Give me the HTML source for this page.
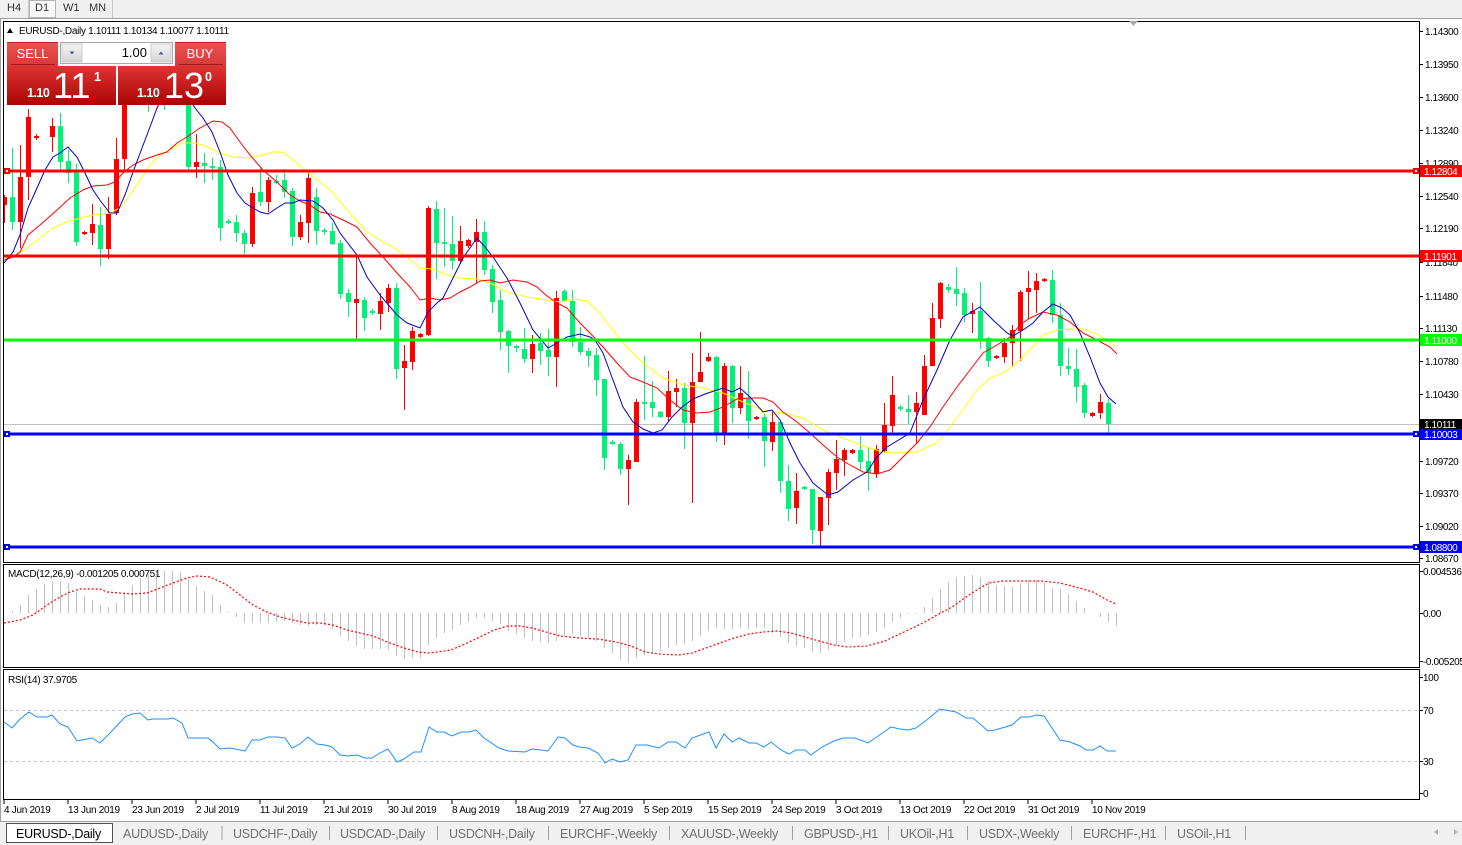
<!DOCTYPE html>
<html><head><meta charset="utf-8"><style>
html,body{margin:0;padding:0;background:#fff;width:1462px;height:845px;overflow:hidden}
svg{display:block}
text{font-family:"Liberation Sans",Arial,sans-serif}
.ax{font-size:10px;letter-spacing:-0.4px;fill:#000}
.dt{font-size:10px;letter-spacing:-0.3px;fill:#000}
.tb{font-size:12.5px;letter-spacing:-0.25px;fill:#707070}
</style></head><body>
<svg width="1462" height="845" viewBox="0 0 1462 845" xmlns="http://www.w3.org/2000/svg">
<defs>
<linearGradient id="gb" x1="0" y1="0" x2="0" y2="1"><stop offset="0" stop-color="#ee5252"/><stop offset="1" stop-color="#d83838"/></linearGradient>
<linearGradient id="gp" x1="0" y1="0" x2="0" y2="1"><stop offset="0" stop-color="#de3434"/><stop offset="1" stop-color="#ac0303"/></linearGradient>
<linearGradient id="gs" x1="0" y1="0" x2="0" y2="1"><stop offset="0" stop-color="#f4f4f4"/><stop offset="1" stop-color="#d4d4d4"/></linearGradient>
<clipPath id="cm"><rect x="4" y="22" width="1415" height="541"/></clipPath>
</defs>
<!-- toolbar -->
<rect x="0" y="0" width="1462" height="19" fill="#f0f0f0"/>
<line x1="0" y1="18.5" x2="1462" y2="18.5" stroke="#a0a0a0"/>
<rect x="29.5" y="0.5" width="26" height="17" fill="#f8f8f8" stroke="#b4b4b4"/>
<line x1="28.5" y1="0" x2="28.5" y2="18" stroke="#c8c8c8"/>
<line x1="112.5" y1="0" x2="112.5" y2="18" stroke="#c8c8c8"/>
<text x="7" y="11" font-size="11" fill="#333">H4</text>
<text x="35" y="11" font-size="11" fill="#333">D1</text>
<text x="63" y="11" font-size="11" fill="#333">W1</text>
<text x="89" y="11" font-size="11" fill="#333">MN</text>
<line x1="0.5" y1="19" x2="0.5" y2="821" stroke="#a0a0a0"/>

<!-- panel borders -->
<rect x="3.5" y="21.5" width="1416" height="541" fill="#fff" stroke="#000"/>
<rect x="3.5" y="564.5" width="1416" height="103" fill="#fff" stroke="#000"/>
<rect x="3.5" y="669.5" width="1416" height="130" fill="#fff" stroke="#000"/>

<polygon points="1129,21 1138,21 1133.5,26" fill="#a8a8a8"/>

<g clip-path="url(#cm)">
<!-- current price line -->
<line x1="4" y1="424.5" x2="1419" y2="424.5" stroke="#c0c0c0"/>
<!-- candles red -->
<path fill="none" stroke="#ff0000" stroke-width="1" d="M4.5 195V223M20.5 145V248M28.5 109V200M36.5 134V140M44.5 75V104M52.5 118V152M84.5 231V235M92.5 204V245M108.5 197V259M116.5 138V215M124.5 90V170M140.5 72V100M156.5 72V100M180.5 72V100M196.5 134V178M252.5 187V247M268.5 177V212M300.5 215V240M308.5 170V243M356.5 257V339M380.5 293V330M388.5 284V312M404.5 345V410M412.5 327V370M420.5 333V338M428.5 206V336M460.5 226V264M468.5 239V248M476.5 219V283M532.5 335V373M556.5 291V387M628.5 455V505M636.5 399V462M668.5 371V421M676.5 379V407M692.5 353V503M700.5 332V382M708.5 353V362M724.5 363V445M740.5 366V414M756.5 416V420M772.5 410V451M796.5 473V524M820.5 497V547M828.5 469V525M836.5 440V490M844.5 448V476M852.5 449V454M876.5 445V478M884.5 403V453M892.5 376V433M916.5 392V443M924.5 355V415M932.5 303V366M940.5 282V328M972.5 303V333M996.5 355V359M1004.5 338V363M1012.5 325V367M1020.5 290V361M1028.5 271V319M1036.5 273V313M1044.5 278V282M1092.5 412V417M1100.5 394V419"/>
<path fill="#ff0000" d="M3 197h4v8h-4zM18 177h5v45h-5zM26 117h5v60h-5zM34 136h5v2h-5zM42 80h5v20h-5zM50 126h5v11h-5zM82 232h5v2h-5zM90 224h5v9h-5zM106 214h5v35h-5zM114 159h5v54h-5zM122 100h5v59h-5zM138 75h5v20h-5zM154 75h5v20h-5zM178 75h5v15h-5zM194 162h5v5h-5zM250 193h5v51h-5zM266 180h5v22h-5zM298 222h5v15h-5zM306 178h5v45h-5zM354 299h5v4h-5zM378 301h5v13h-5zM386 288h5v15h-5zM402 361h5v7h-5zM410 331h5v31h-5zM418 334h5v3h-5zM426 208h5v127h-5zM458 241h5v20h-5zM466 240h5v6h-5zM474 232h5v10h-5zM530 344h5v15h-5zM554 298h5v59h-5zM626 460h5v9h-5zM634 402h5v60h-5zM666 391h5v26h-5zM674 388h5v4h-5zM690 382h5v41h-5zM698 372h5v10h-5zM706 357h5v4h-5zM722 366h5v67h-5zM738 393h5v15h-5zM754 417h5v2h-5zM770 422h5v20h-5zM794 491h5v17h-5zM818 497h5v34h-5zM826 472h5v26h-5zM834 459h5v14h-5zM842 450h5v10h-5zM850 450h5v3h-5zM874 449h5v25h-5zM882 425h5v26h-5zM890 395h5v31h-5zM914 403h5v9h-5zM922 366h5v49h-5zM930 318h5v48h-5zM938 283h5v36h-5zM970 311h5v3h-5zM994 356h5v2h-5zM1002 343h5v14h-5zM1010 330h5v13h-5zM1018 292h5v39h-5zM1026 288h5v4h-5zM1034 281h5v9h-5zM1042 279h5v2h-5zM1090 413h5v3h-5zM1098 402h5v11h-5z"/>
<!-- candles green -->
<path fill="none" stroke="#00f07a" stroke-width="1" d="M12.5 148V230M60.5 113V172M68.5 150V183M76.5 164V246M100.5 207V266M132.5 72V100M148.5 72V112M164.5 72V110M172.5 72V100M188.5 80V170M204.5 153V183M212.5 158V180M220.5 160V241M228.5 219V224M236.5 215V242M244.5 230V254M260.5 167V206M276.5 175V184M284.5 169V198M292.5 188V246M316.5 188V245M324.5 228V235M332.5 223V245M340.5 240V299M348.5 289V317M364.5 297V331M372.5 309V315M396.5 283V379M436.5 201V279M444.5 208V267M452.5 216V270M484.5 221V275M492.5 265V313M500.5 290V350M508.5 330V373M516.5 345V352M524.5 328V363M540.5 333V365M548.5 329V376M564.5 289V302M572.5 290V347M580.5 327V355M588.5 348V367M596.5 348V396M604.5 379V470M612.5 440V445M620.5 442V475M644.5 356V420M652.5 381V417M660.5 411V418M684.5 383V449M716.5 356V442M732.5 365V423M748.5 371V439M764.5 414V467M780.5 421V493M788.5 465V521M804.5 486V490M812.5 489V544M860.5 436V470M868.5 447V491M900.5 405V411M908.5 395V424M948.5 284V293M956.5 267V306M964.5 288V322M980.5 282V349M988.5 337V367M1052.5 270V323M1060.5 303V376M1068.5 348V375M1076.5 349V402M1084.5 383V418M1108.5 399V433"/>
<path fill="#00f07a" d="M10 197h5v25h-5zM58 126h5v36h-5zM66 161h5v12h-5zM74 172h5v70h-5zM98 225h5v24h-5zM130 75h5v20h-5zM146 80h5v25h-5zM162 78h5v22h-5zM170 75h5v20h-5zM186 90h5v77h-5zM202 163h5v3h-5zM210 166h5v2h-5zM218 167h5v61h-5zM226 221h5v2h-5zM234 222h5v11h-5zM242 233h5v11h-5zM258 192h5v10h-5zM274 181h5v2h-5zM282 180h5v12h-5zM290 191h5v46h-5zM314 197h5v34h-5zM322 230h5v2h-5zM330 231h5v13h-5zM338 243h5v51h-5zM346 293h5v9h-5zM362 300h5v18h-5zM370 311h5v2h-5zM394 288h5v81h-5zM434 209h5v34h-5zM442 242h5v2h-5zM450 244h5v17h-5zM482 232h5v38h-5zM490 269h5v33h-5zM498 300h5v32h-5zM506 331h5v15h-5zM514 346h5v2h-5zM522 349h5v10h-5zM538 343h5v8h-5zM546 350h5v7h-5zM562 291h5v10h-5zM570 301h5v41h-5zM578 342h5v10h-5zM586 351h5v5h-5zM594 355h5v25h-5zM602 379h5v79h-5zM610 442h5v2h-5zM618 444h5v25h-5zM642 402h5v2h-5zM650 402h5v6h-5zM658 412h5v5h-5zM682 388h5v35h-5zM714 357h5v76h-5zM730 366h5v42h-5zM746 398h5v23h-5zM762 417h5v24h-5zM778 422h5v59h-5zM786 481h5v28h-5zM802 487h5v2h-5zM810 489h5v41h-5zM858 450h5v12h-5zM866 461h5v12h-5zM898 407h5v2h-5zM906 409h5v3h-5zM946 287h5v3h-5zM954 289h5v5h-5zM962 293h5v22h-5zM978 311h5v29h-5zM986 338h5v23h-5zM1050 280h5v35h-5zM1058 315h5v51h-5zM1066 366h5v3h-5zM1074 369h5v18h-5zM1082 385h5v28h-5zM1106 403h5v21h-5z"/>
<!-- MAs -->
<polyline fill="none" stroke="#ffff00" stroke-width="1" points="4,258 13,257 27,248 40,238 53,228 67,222 80,218 93,215 110,213 120,208 130,195 140,180 150,165 160,155 173,148 182,143 193,143 203,145 220,153 233,157 247,158 260,156 273,152 283,152 293,160 300,166 315,178 330,190 350,213 367,232 383,242 393,247 407,257 420,268 433,269 447,275 460,278 477,279 490,283 507,292 527,297 547,300 560,302 573,299 587,301 600,313 605,320 623,343 643,363 663,378 683,385 703,388 723,393 743,402 763,410 783,413 803,418 823,430 843,438 863,446 883,452 890,453 917,452 937,443 950,427 963,410 977,390 990,378 1003,373 1017,363 1030,350 1043,335 1057,330 1070,329 1083,329 1097,334 1110,342 1117,347"/>
<polyline fill="none" stroke="#ff0000" stroke-width="1" points="4,260 13,257 20,252 28,235 40,225 57,210 70,198 83,190 93,186 107,185 115,182 123,173 133,165 143,160 157,155 167,152 177,143 187,137 200,128 213,121 222,122 230,128 240,142 250,155 263,170 277,182 290,195 300,201 310,205 320,212 330,214 343,220 357,227 370,243 383,257 397,273 410,287 420,300 430,298 440,300 450,298 460,292 470,287 480,281 490,280 500,283 513,280 527,282 537,287 547,296 557,303 567,308 580,323 590,333 603,347 617,363 630,377 643,382 657,388 670,400 683,410 697,413 710,412 723,407 737,399 750,398 763,398 773,402 783,412 797,422 810,433 823,445 837,457 850,465 863,472 877,474 890,470 903,457 917,443 930,427 943,407 957,387 970,370 983,353 997,345 1010,337 1020,325 1030,318 1043,312 1057,315 1070,322 1083,333 1097,340 1110,347 1117,354"/>
<polyline fill="none" stroke="#0000cd" stroke-width="1" points="4,263 13,252 20,235 28,208 37,188 45,170 53,157 60,153 68,147 77,157 85,173 93,190 102,203 110,213 117,213 125,195 133,172 142,148 150,127 157,108 165,92 175,85 185,92 195,108 203,118 212,132 220,152 228,175 237,193 245,203 253,208 260,212 268,214 277,208 285,203 293,203 300,200 313,201 323,208 333,220 340,233 357,255 367,277 380,295 397,315 407,323 420,328 428,312 437,303 443,298 453,278 463,258 477,238 485,247 493,257 507,278 520,303 533,330 548,348 557,343 567,337 580,334 590,337 595,340 603,353 613,380 623,407 633,422 643,429 653,433 662,430 672,417 682,407 693,399 705,394 717,390 723,388 732,392 740,388 750,397 763,412 772,410 780,420 790,443 800,463 813,483 828,495 838,492 853,480 867,472 877,457 887,447 910,433 923,400 937,370 950,340 963,317 980,307 993,320 1007,333 1013,336 1023,330 1033,323 1043,312 1053,304 1062,308 1070,315 1080,333 1090,357 1100,383 1108,397 1116,404"/>
<!-- horizontal lines -->
<rect x="4" y="169.5" width="1415" height="3" fill="#ff0000"/>
<rect x="4" y="254.5" width="1415" height="3" fill="#ff0000"/>
<rect x="4" y="338.5" width="1415" height="3" fill="#00ff00"/>
<rect x="4" y="432.5" width="1415" height="3" fill="#0000ff"/>
<rect x="4" y="545.5" width="1415" height="3" fill="#0000ff"/>
<rect x="4" y="168" width="6" height="6" fill="#ff0000"/><rect x="6" y="170" width="2" height="2" fill="#fff"/>
<rect x="1413" y="168" width="6" height="6" fill="#ff0000"/><rect x="1415" y="170" width="2" height="2" fill="#fff"/>
<rect x="4" y="431" width="6" height="6" fill="#0000ff"/><rect x="6" y="433" width="2" height="2" fill="#fff"/>
<rect x="1413" y="431" width="6" height="6" fill="#0000ff"/><rect x="1415" y="433" width="2" height="2" fill="#fff"/>
<rect x="4" y="544" width="6" height="6" fill="#0000ff"/><rect x="6" y="546" width="2" height="2" fill="#fff"/>
<rect x="1413" y="544" width="6" height="6" fill="#0000ff"/><rect x="1415" y="546" width="2" height="2" fill="#fff"/>
</g>

<!-- header -->
<polygon points="7,33 10,28 13,33" fill="#000"/>
<text x="19" y="34" class="dt">EURUSD-,Daily  1.10111 1.10134 1.10077 1.10111</text>

<!-- trade panel -->
<rect x="7" y="42" width="51" height="24" fill="url(#gb)"/>
<rect x="175" y="42" width="51" height="24" fill="url(#gb)"/>
<rect x="7" y="42" width="51" height="1" fill="#b82020"/>
<rect x="175" y="42" width="51" height="1" fill="#b82020"/>
<rect x="11" y="64" width="44" height="1" fill="#a81818"/>
<rect x="179" y="64" width="44" height="1" fill="#a81818"/>
<rect x="7" y="66" width="109" height="39" fill="url(#gp)"/>
<rect x="118" y="66" width="108" height="39" fill="url(#gp)"/>
<text x="32.5" y="58" font-size="13" fill="#fff" text-anchor="middle">SELL</text>
<text x="200" y="58" font-size="13" fill="#fff" text-anchor="middle">BUY</text>
<rect x="60.5" y="42.5" width="112" height="21" fill="#fff" stroke="#a8a8a8"/>
<rect x="62" y="44" width="20" height="18" fill="url(#gs)" stroke="#c0c0c0" stroke-width="0.8"/>
<rect x="151" y="44" width="20" height="18" fill="url(#gs)" stroke="#c0c0c0" stroke-width="0.8"/>
<polygon points="69.5,51.5 74.5,51.5 72,54.5" fill="#4a5a9a"/>
<polygon points="158.5,54.5 163.5,54.5 161,51.5" fill="#4a5a9a"/>
<text x="147" y="57" font-size="13" fill="#000" text-anchor="end">1.00</text>
<text x="27" y="97" font-size="12.5" font-weight="bold" fill="#fff" letter-spacing="-0.5">1.10</text>
<text x="53" y="98" font-size="36" fill="#fff">11</text>
<text x="94" y="81" font-size="12.5" font-weight="bold" fill="#fff">1</text>
<text x="137" y="97" font-size="12.5" font-weight="bold" fill="#fff" letter-spacing="-0.5">1.10</text>
<text x="164" y="98" font-size="36" fill="#fff">13</text>
<text x="205" y="81" font-size="12.5" font-weight="bold" fill="#fff">0</text>

<!-- price axis -->
<path stroke="#000" fill="none" d="M1419 31.5h4M1419 64.5h4M1419 97.5h4M1419 130.5h4M1419 163.5h4M1419 196.5h4M1419 228.5h4M1419 262.5h4M1419 296.5h4M1419 328.5h4M1419 361.5h4M1419 394.5h4M1419 461.5h4M1419 493.5h4M1419 526.5h4M1419 558.5h4M1419 571.5h4M1419 613.5h4M1419 661.5h4M1419 677.5h4M1419 710.5h4M1419 761.5h4M1419 793.5h4"/>
<g class="ax">
<text x="1425" y="35">1.14300</text>
<text x="1425" y="68">1.13950</text>
<text x="1425" y="101">1.13600</text>
<text x="1425" y="134">1.13240</text>
<text x="1425" y="167">1.12890</text>
<text x="1425" y="200">1.12540</text>
<text x="1425" y="232">1.12190</text>
<text x="1425" y="266">1.11840</text>
<text x="1425" y="300">1.11480</text>
<text x="1425" y="332">1.11130</text>
<text x="1425" y="365">1.10780</text>
<text x="1425" y="398">1.10430</text>
<text x="1425" y="465">1.09720</text>
<text x="1425" y="497">1.09370</text>
<text x="1425" y="530">1.09020</text>
<text x="1425" y="562">1.08670</text>
<text x="1423" y="575">0.004536</text>
<text x="1423" y="617">0.00</text>
<text x="1423" y="665">-0.005205</text>
<text x="1423" y="681">100</text>
<text x="1423" y="714">70</text>
<text x="1423" y="765">30</text>
<text x="1423" y="797">0</text>
</g>
<rect x="1420" y="165" width="42" height="12" fill="#ff0000"/>
<rect x="1420" y="250" width="42" height="12" fill="#ff0000"/>
<rect x="1420" y="334" width="42" height="12" fill="#00ff00"/>
<rect x="1420" y="419" width="42" height="11" fill="#000"/>
<rect x="1420" y="429" width="42" height="11" fill="#0000ff"/>
<rect x="1420" y="541" width="42" height="12" fill="#0000ff"/>
<g class="ax" style="fill:#fff">
<text x="1424" y="175">1.12804</text>
<text x="1424" y="260">1.11901</text>
<text x="1424" y="344">1.11000</text>
<text x="1424" y="428">1.10111</text>
<text x="1424" y="438">1.10003</text>
<text x="1424" y="551">1.08800</text>
</g>

<!-- MACD -->
<text x="8" y="577" class="dt">MACD(12,26,9) -0.001205 0.000751</text>
<path stroke="#c0c0c0" stroke-width="1" fill="none" d="M12.5 613V611M20.5 613V605M28.5 613V595M36.5 613V589M44.5 613V584M52.5 613V581M60.5 613V581M68.5 613V583M76.5 613V592M84.5 613V596M92.5 613V600M100.5 613V605M108.5 613V607M116.5 613V603M124.5 613V593M132.5 613V585M140.5 613V578M148.5 613V574M156.5 613V572M164.5 613V571M172.5 613V571M180.5 613V572M188.5 613V579M196.5 613V586M204.5 613V591M212.5 613V595M220.5 613V605M228.5 613V612M236.5 613V617M244.5 613V623M252.5 613V623M260.5 613V623M268.5 613V623M276.5 613V621M284.5 613V621M292.5 613V623M300.5 613V625M308.5 613V626M316.5 613V625M324.5 613V625M332.5 613V629M340.5 613V636M348.5 613V641M356.5 613V646M364.5 613V649M372.5 613V649M380.5 613V649M388.5 613V650M396.5 613V656M404.5 613V659M412.5 613V658M420.5 613V658M428.5 613V645M436.5 613V638M444.5 613V633M452.5 613V630M460.5 613V625M468.5 613V622M476.5 613V618M484.5 613V618M492.5 613V621M500.5 613V624M508.5 613V631M516.5 613V634M524.5 613V638M532.5 613V641M540.5 613V642M548.5 613V643M556.5 613V641M564.5 613V636M572.5 613V634M580.5 613V636M588.5 613V638M596.5 613V641M604.5 613V648M612.5 613V653M620.5 613V660M628.5 613V663M636.5 613V658M644.5 613V655M652.5 613V653M660.5 613V651M668.5 613V648M676.5 613V645M684.5 613V644M692.5 613V641M700.5 613V636M708.5 613V631M716.5 613V628M724.5 613V629M732.5 613V629M740.5 613V628M748.5 613V629M756.5 613V628M764.5 613V628M772.5 613V633M780.5 613V637M788.5 613V643M796.5 613V646M804.5 613V648M812.5 613V652M820.5 613V653M828.5 613V650M836.5 613V645M844.5 613V642M852.5 613V638M860.5 613V637M868.5 613V635M876.5 613V632M884.5 613V628M892.5 613V622M900.5 613V618M908.5 613V614M916.5 613V614M924.5 613V607M932.5 613V598M940.5 613V589M948.5 613V582M956.5 613V577M964.5 613V576M972.5 613V575M980.5 613V577M988.5 613V581M996.5 613V585M1004.5 613V586M1012.5 613V587M1020.5 613V583M1028.5 613V580M1036.5 613V580M1044.5 613V582M1052.5 613V588M1060.5 613V589M1068.5 613V594M1076.5 613V601M1084.5 613V608M1100.5 613V617M1108.5 613V622M1116.5 613V626"/>
<polyline fill="none" stroke="#ff0000" stroke-width="1.2" stroke-dasharray="2,2" points="4,623 20,620 33,615 47,605 60,597 70,592 80,589 100,589 107,592 120,593 133,594 147,593 160,588 173,583 187,578 197,576 210,577 227,585 240,595 253,605 267,612 280,617 293,620 307,623 320,623 333,625 347,630 360,633 373,636 390,643 404,648 418,652 428,653 437,652 451,650 465,644 480,637 494,630 508,626 520,626 532,628 546,632 560,636 579,638 598,639 616,642 631,646 645,652 659,654 678,655 692,653 706,648 720,643 734,638 749,634 763,632 777,631 791,633 805,637 819,641 834,645 848,647 867,646 885,641 904,632 923,623 937,615 952,607 966,597 980,588 989,583 1003,581 1022,581 1041,581 1060,583 1079,588 1093,592 1107,600 1116,604"/>

<!-- RSI -->
<text x="8" y="683" class="dt">RSI(14) 37.9705</text>
<line x1="4" y1="710.5" x2="1419" y2="710.5" stroke="#c0c0c0" stroke-dasharray="3,3"/>
<line x1="4" y1="761.5" x2="1419" y2="761.5" stroke="#c0c0c0" stroke-dasharray="3,3"/>
<polyline fill="none" stroke="#1e90ff" stroke-width="1" points="4,722 12,728 20,719 29,712 37,717 47,717 52,715 60,724 68,727 77,741 87,739 92,738 100,743 110,733 125,717 132,714 140,713 148,720 153,719 168,719 173,718 182,723 188,738 208,738 213,742 220,749 230,748 245,751 252,740 260,740 268,737 277,737 285,738 292,748 300,744 308,737 317,744 325,745 332,747 340,755 348,756 357,755 365,758 372,758 380,753 388,749 397,762 404,759 414,752 421,752 429,727 437,732 444,732 452,736 461,732 469,732 476,730 484,738 499,748 508,751 525,752 532,749 541,750 548,751 558,737 565,738 573,745 579,747 588,748 598,753 605,763 612,759 620,762 628,760 636,745 647,745 659,748 668,742 676,742 685,748 692,738 709,732 716,748 724,734 732,742 739,738 749,743 756,743 764,747 771,742 781,750 789,754 796,750 805,750 811,755 822,747 834,741 843,738 855,738 868,743 881,734 891,727 900,729 908,730 916,728 928,719 940,709 956,712 966,718 973,718 988,731 995,730 1012,725 1021,717 1030,717 1036,715 1044,716 1060,740 1070,742 1080,746 1086,750 1093,750 1100,746 1107,751 1116,751"/>

<!-- date axis -->
<path stroke="#000" d="M4 800v4M68 800v4M132 800v4M196 800v4M260 800v4M324 800v4M388 800v4M452 800v4M516 800v4M580 800v4M644 800v4M708 800v4M772 800v4M836 800v4M900 800v4M964 800v4M1028 800v4M1092 800v4"/>
<g class="dt">
<text x="4" y="813">4 Jun 2019</text>
<text x="68" y="813">13 Jun 2019</text>
<text x="132" y="813">23 Jun 2019</text>
<text x="196" y="813">2 Jul 2019</text>
<text x="260" y="813">11 Jul 2019</text>
<text x="324" y="813">21 Jul 2019</text>
<text x="388" y="813">30 Jul 2019</text>
<text x="452" y="813">8 Aug 2019</text>
<text x="516" y="813">18 Aug 2019</text>
<text x="580" y="813">27 Aug 2019</text>
<text x="644" y="813">5 Sep 2019</text>
<text x="708" y="813">15 Sep 2019</text>
<text x="772" y="813">24 Sep 2019</text>
<text x="836" y="813">3 Oct 2019</text>
<text x="900" y="813">13 Oct 2019</text>
<text x="964" y="813">22 Oct 2019</text>
<text x="1028" y="813">31 Oct 2019</text>
<text x="1092" y="813">10 Nov 2019</text>
</g>

<!-- tabs -->
<rect x="0" y="821" width="1462" height="24" fill="#f0f0f0"/>
<line x1="0" y1="821.5" x2="1462" y2="821.5" stroke="#a0a0a0"/>
<rect x="6.5" y="823.5" width="106" height="19" fill="#fff" stroke="#505050"/>
<text x="16" y="838" class="tb" style="fill:#000">EURUSD-,Daily</text>
<text x="123" y="838" class="tb">AUDUSD-,Daily</text>
<text x="233" y="838" class="tb">USDCHF-,Daily</text>
<text x="340" y="838" class="tb">USDCAD-,Daily</text>
<text x="449" y="838" class="tb">USDCNH-,Daily</text>
<text x="560" y="838" class="tb">EURCHF-,Weekly</text>
<text x="681" y="838" class="tb">XAUUSD-,Weekly</text>
<text x="804" y="838" class="tb">GBPUSD-,H1</text>
<text x="900" y="838" class="tb">UKOil-,H1</text>
<text x="979" y="838" class="tb">USDX-,Weekly</text>
<text x="1083" y="838" class="tb">EURCHF-,H1</text>
<text x="1177" y="838" class="tb">USOil-,H1</text>
<path stroke="#a0a0a0" d="M222 826v14M329.5 826v14M437.5 826v14M548.5 826v14M669.5 826v14M792.5 826v14M888.5 826v14M967.5 826v14M1071.5 826v14M1165.5 826v14M1245.5 826v14"/>
<polygon points="1434,832 1438,829 1438,835" fill="#b0b0b0"/>
<polygon points="1458,832 1454,829 1454,835" fill="#b0b0b0"/>
</svg>
</body></html>
